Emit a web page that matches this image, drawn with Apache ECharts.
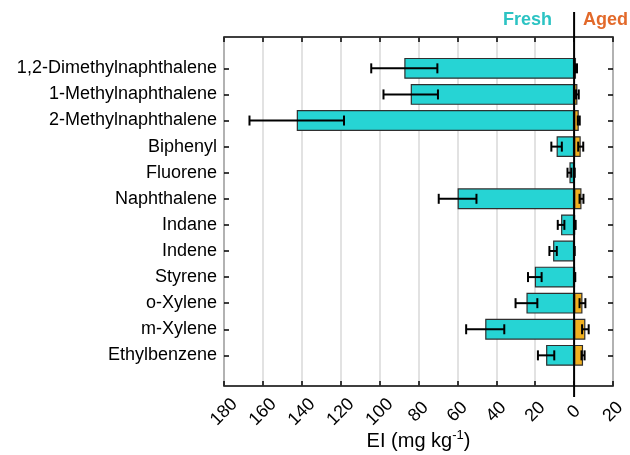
<!DOCTYPE html>
<html><head><meta charset="utf-8">
<script src="https://cdn.jsdelivr.net/npm/echarts@6/dist/echarts.min.js"></script>
<style>html,body{margin:0;padding:0;background:#fff}#c{width:630px;height:455px}</style>
</head><body><div id="c"></div>
<script>
const categories = ['1,2-Dimethylnaphthalene','1-Methylnaphthalene','2-Methylnaphthalene','Biphenyl','Fluorene','Naphthalene','Indane','Indene','Styrene','o-Xylene','m-Xylene','Ethylbenzene'];
const freshValues = [87.3, 84.0, 142.6, 9.0, 2.4, 59.9, 6.7, 10.8, 20.2, 24.5, 45.7, 14.4];
const freshErrors = [17.0, 14.0, 24.3, 2.7, 1.0, 9.7, 1.7, 1.9, 3.5, 5.6, 9.8, 4.2];
const agedValues = [1.0, 1.7, 2.4, 3.4, 0.2, 3.8, 0.5, 0.2, 0.4, 4.3, 5.8, 4.6];
const agedErrors = [0.5, 0.7, 0.5, 1.3, 0.0, 1.0, 0.3, 0.0, 0.2, 1.5, 1.7, 0.8];
const xMin = -20, xMax = 180, xStep = 20;

const FONT = "'Liberation Sans', Arial, sans-serif";
const chart = echarts.init(document.getElementById('c'), null, {renderer: 'canvas'});

function renderErr(params, api) {
  const v = api.value(0), i = api.value(1), e = api.value(2);
  const p1 = api.coord([v - e, i]), p2 = api.coord([v + e, i]);
  const h = 5;
  const style = {stroke: '#000', lineWidth: 2};
  return {type: 'group', children: [
    {type: 'line', shape: {x1: p1[0], y1: p1[1], x2: p2[0], y2: p2[1]}, style},
    {type: 'line', shape: {x1: p1[0], y1: p1[1] - h, x2: p1[0], y2: p1[1] + h}, style},
    {type: 'line', shape: {x1: p2[0], y1: p2[1] - h, x2: p2[0], y2: p2[1] + h}, style}
  ]};
}

const gL = 224, gR = 17;
const tickStyle = {color: '#000', width: 1.5};
const option = {
  animation: false,
  textStyle: {fontFamily: FONT},
  grid: [
    {left: gL, right: gR, top: 37, bottom: 69, show: true, borderColor: '#000', borderWidth: 1.5, containLabel: false, outerBoundsMode: 'none'},
    {left: gL, right: gR, top: 55.3, bottom: 86.6, containLabel: false, outerBoundsMode: 'none'},
    {left: gL, right: gR, top: 12, bottom: 58, containLabel: false, outerBoundsMode: 'none'}
  ],
  xAxis: [
    {gridIndex: 0, type: 'value', inverse: true, min: xMin, max: xMax, interval: xStep, position: 'bottom',
     axisLine: {show: false, onZero: false},
     axisTick: {show: true, inside: true, length: 5, lineStyle: tickStyle},
     axisLabel: {rotate: 45, align: 'center', verticalAlign: 'middle', margin: 26, fontSize: 18, color: '#000', fontFamily: FONT,
                 formatter: v => String(Math.abs(v))},
     splitLine: {show: true, lineStyle: {color: '#d9d9d9', width: 1.5}},
     name: 'EI (mg kg{sup|-1})', nameLocation: 'middle', nameGap: 43, nameMoveOverlap: false,
     nameTextStyle: {fontSize: 20, color: '#000', fontFamily: FONT,
       rich: {sup: {fontSize: 13, color: '#000', fontFamily: FONT, padding: [0, 0, 12, 0]}}}},
    {gridIndex: 0, type: 'value', inverse: true, min: xMin, max: xMax, interval: xStep, position: 'top',
     axisLine: {show: false, onZero: false},
     axisTick: {show: true, inside: true, length: 5, lineStyle: tickStyle},
     axisLabel: {show: false}, splitLine: {show: false}},
    {gridIndex: 1, type: 'value', inverse: true, min: xMin, max: xMax, show: false},
    {gridIndex: 2, type: 'value', inverse: true, min: xMin, max: xMax, show: false}
  ],
  yAxis: [
    {gridIndex: 0, type: 'value', min: 0, max: 1, show: false},
    {gridIndex: 1, type: 'category', inverse: true, data: categories, position: 'left',
     axisLine: {show: false, onZero: false},
     axisTick: {show: true, inside: true, alignWithLabel: true, length: 5, lineStyle: tickStyle},
     axisLabel: {fontSize: 18, color: '#000', margin: 7, fontFamily: FONT}},
    {gridIndex: 1, type: 'category', inverse: true, data: categories, position: 'right',
     axisLine: {show: false, onZero: false},
     axisTick: {show: true, inside: true, alignWithLabel: true, length: 5, lineStyle: tickStyle},
     axisLabel: {show: false}},
    {gridIndex: 2, type: 'value', min: 0, max: 1, show: false}
  ],
  graphic: [
    {type: 'text', x: 552, y: 20, style: {text: 'Fresh', fill: '#2cc3c3', font: "bold 18px " + FONT, textAlign: 'right', textVerticalAlign: 'middle'}},
    {type: 'text', x: 583, y: 20, style: {text: 'Aged', fill: '#e2692a', font: "bold 18px " + FONT, textAlign: 'left', textVerticalAlign: 'middle'}}
  ],
  series: [
    {type: 'bar', name: 'Fresh', xAxisIndex: 2, yAxisIndex: 1, data: freshValues, barWidth: '80%',
     itemStyle: {color: '#26d4d4', borderColor: '#2f2f2f', borderWidth: 1.2}, z: 2},
    {type: 'bar', name: 'Aged', xAxisIndex: 2, yAxisIndex: 1, data: agedValues.map(v => -v), barWidth: '80%', barGap: '-100%',
     itemStyle: {color: '#f0b020', borderColor: '#2f2f2f', borderWidth: 1.2}, z: 2},
    {type: 'custom', xAxisIndex: 2, yAxisIndex: 1, renderItem: renderErr, encode: {x: 0, y: 1}, z: 3,
     data: freshValues.map((v, i) => [v, i, freshErrors[i]])},
    {type: 'custom', xAxisIndex: 2, yAxisIndex: 1, renderItem: renderErr, encode: {x: 0, y: 1}, z: 3,
     data: agedValues.map((v, i) => [-v, i, agedErrors[i]])},
    {type: 'line', xAxisIndex: 3, yAxisIndex: 3, data: [[0, 0], [0, 1]], symbol: 'none', z: 5,
     lineStyle: {color: '#000', width: 2}}
  ]
};
chart.setOption(option);
</script></body></html>
